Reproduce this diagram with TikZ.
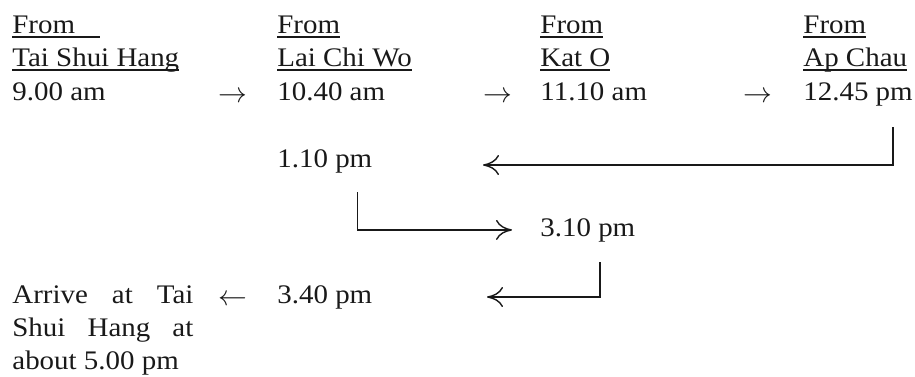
\documentclass[tikz,border=0pt]{standalone}
\usepackage{fontspec}
\setmainfont[FakeStretch=1.08]{Liberation Serif}
\usetikzlibrary{arrows.meta,positioning}
\definecolor{inkblack}{RGB}{25,25,25}
% underline at a fixed depth, through the descenders
\newcommand\uln[1]{\setbox0\hbox{#1}\rlap{\rule[-2.3pt]{\wd0}{0.6pt}}\box0}

\begin{document}
\begin{tikzpicture}[x=0.5pt,y=-0.5pt,
  txt/.style={anchor=base west, inner sep=0pt, text=inkblack,
    font=\fontsize{13.4}{16.5}\selectfont},
  glyph/.style={anchor=base west, inner sep=0pt, text=inkblack,
    font=\fontsize{15}{18}\selectfont},
  ret/.style={draw=inkblack, line width=0.7pt,
    -{Computer Modern Rightarrow[length=8pt,width=10pt]}}]
\useasboundingbox (0,0) rectangle (915,376);
% --- Column heads ---
\node[txt] (from1) at (12,33) {\uln{\makebox[44pt][l]{From}}};
\node[txt] (tsh) at (12,66) {\uln{Tai Shui Hang}};
\node[txt] (from2) at (277,33) {\uln{From}};
\node[txt] (lcw) at (277,66) {\uln{Lai Chi Wo}};
\node[txt] (from3) at (540,33) {\uln{From}};
\node[txt] (kato) at (540,66) {\uln{Kat O}};
\node[txt] (from4) at (803,33) {\uln{From}};
\node[txt] (apchau) at (803,66) {\uln{Ap Chau}};
% --- Outward times ---
\node[txt] (t900) at (12,100) {9.00 am};
\node[txt] (t1040) at (277,100) {10.40 am};
\node[txt] (t1110) at (540,100) {11.10 am};
\node[txt] (t1245) at (803,100) {12.45 pm};
\node[glyph] (go1) at (218,102) {$\rightarrow$};
\node[glyph] (go2) at (483,102) {$\rightarrow$};
\node[glyph] (go3) at (743,102) {$\rightarrow$};
% --- Return times ---
\node[txt] (t110) at (277,167) {1.10 pm};
\node[txt] (t310) at (540,236) {3.10 pm};
\node[txt] (t340) at (277,303) {3.40 pm};
\node[glyph] (back) at (218,305) {$\leftarrow$};
\node[txt, align=left] (arrive) at (12,369)
  {\makebox[90.5pt][s]{Arrive at Tai}\\
   \makebox[90.5pt][s]{Shui Hang at}\\
   about 5.00 pm};
% Return connectors
\coordinate (tip1) at (483,165);
\coordinate (tip3) at (487,297);
\draw[ret] ([xshift=-10pt,yshift=-10.5pt]t1245.south east) |- (tip1);
\draw[ret] ([xshift=-7.5pt,yshift=-9.5pt]t110.south east) |- ([xshift=-14pt]t310.west);
\draw[ret] ([xshift=6pt,yshift=-10pt]t310.south) |- (tip3);
\end{tikzpicture}
\end{document}
